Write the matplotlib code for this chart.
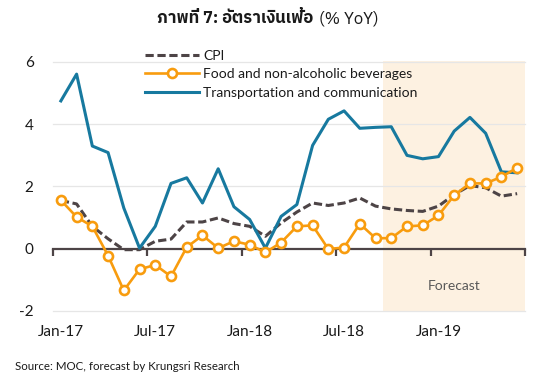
import matplotlib
matplotlib.use('Agg')
import matplotlib.pyplot as plt
from matplotlib import font_manager as fm
import matplotlib.patheffects as pe
import pandas as pd

# ---------------- data ----------------
months = list(pd.date_range('2017-01-01', periods=30, freq='MS').strftime('%b-%y'))
tick_labels = ['Jan-17', 'Jul-17', 'Jan-18', 'Jul-18', 'Jan-19']
cpi = [1.55, 1.44, 0.72, 0.32, -0.03, -0.03, 0.24, 0.31, 0.86, 0.86, 0.99, 0.81,
       0.72, 0.40, 0.83, 1.18, 1.47, 1.39, 1.47, 1.63, 1.37, 1.28, 1.23, 1.20,
       1.37, 1.74, 2.03, 1.96, 1.69, 1.77]
food = [1.56, 1.02, 0.72, -0.22, -1.34, -0.66, -0.52, -0.89, 0.05, 0.43, 0.02, 0.24,
        0.13, -0.12, 0.20, 0.72, 0.75, -0.01, 0.04, 0.80, 0.34, 0.34, 0.72, 0.75,
        1.07, 1.72, 2.10, 2.10, 2.31, 2.60]
transport = [4.75, 5.61, 3.30, 3.09, 1.31, 0.02, 0.72, 2.10, 2.28, 1.47, 2.57, 1.35,
             0.94, 0.02, 1.04, 1.42, 3.32, 4.16, 4.43, 3.87, 3.90, 3.92, 3.00, 2.89,
             2.96, 3.78, 4.22, 3.71, 2.47, 2.44]
forecast_start = 'Oct-18'
series_names = ['CPI', 'Food and non-alcoholic beverages', 'Transportation and communication']
title_bold = 'ภาพที่ 7: อัตราเงินเฟ้อ'
title_regular = '(% YoY)'
source = 'Source: MOC, forecast by Krungsri Research'

# ---------------- fonts ----------------
def find_thai_family():
    try:
        from fontTools.ttLib import TTFont
    except Exception:
        return None, False
    fams = {}
    for f in fm.fontManager.ttflist:
        try:
            tt = TTFont(f.fname, fontNumber=0, lazy=True)
            cmap = tt.getBestCmap()
            if cmap and 0x0E20 in cmap and 0x0E40 in cmap and 0x0E49 in cmap:
                w = f.weight
                if isinstance(w, str):
                    w = {'bold': 700, 'normal': 400, 'regular': 400}.get(w.lower(), 400)
                d = fams.setdefault(f.name, set())
                d.add(w)
        except Exception:
            continue
    if not fams:
        return None, False
    def score(item):
        name, ws = item
        s = 0
        if any(w >= 600 for w in ws):
            s += 4
        if 'Noto' in name:
            s += 2
        if 'Sans' in name:
            s += 1
        return s
    name, ws = max(fams.items(), key=score)
    return name, any(w >= 600 for w in ws)

thai, thai_has_bold = find_thai_family()
base_font = 'Lato'
plt.rcParams['font.family'] = [base_font, 'DejaVu Sans']

# ---------------- colors ----------------
c_cpi = '#4d4446'
c_food = '#f89c0e'
c_trans = '#17799f'
c_shade = '#fdf1e1'
c_text = '#1a1a1a'

W, H = 535, 383
fig = plt.figure(figsize=(W / 100, H / 100), dpi=100)
x_left, x_right = 53, 525
y_top, y_bot = 62, 311
ax = fig.add_axes([x_left / W, 1 - y_bot / H, (x_right - x_left) / W, (y_bot - y_top) / H])

n = len(months)
xs = [i + 0.5 for i in range(n)]
ax.set_xlim(0, n)
ax.set_ylim(-2, 6)

# forecast shading
fs = months.index(forecast_start)
ax.axvspan(fs, n, ymin=0, ymax=1.005, color=c_shade, lw=0, zorder=0, clip_on=False)
ax.text((fs + n) / 2, -1.2, 'Forecast', ha='center', va='center', fontsize=10, color='#595959')

# gridlines
for yv in [-2, 2, 4, 6]:
    ax.axhline(yv, color='#e6e6e6', lw=0.9, zorder=1, clip_on=False)

ax.plot(xs, cpi, color=c_cpi, lw=2.2, ls=(0, (2.7, 1.2)), zorder=3, label=series_names[0])
ax.plot(xs, food, color=c_food, lw=1.9, marker='o', ms=6.5, mfc='white', mec=c_food, mew=1.9,
        zorder=4, label=series_names[1])
ax.plot(xs, transport, color=c_trans, lw=2.2, zorder=3, label=series_names[2])

# spines/axis
for s in ['top', 'right', 'left']:
    ax.spines[s].set_visible(False)
ax.spines['bottom'].set_position(('data', 0))
ax.spines['bottom'].set_color('#4d4446')
ax.spines['bottom'].set_linewidth(1.6)
ax.spines['bottom'].set_zorder(2)
ax.set_xticks(range(0, n + 1, 6))
ax.set_xticklabels([])
ax.tick_params(axis='x', direction='out', length=5, width=1.6, color='#4d4446')

ax.set_yticks([-2, 0, 2, 4, 6])
ax.set_yticklabels(['-2', '0', '2', '4', '6'])
ax.tick_params(axis='y', length=0, pad=14, labelsize=11, labelcolor=c_text)

sec = ax.secondary_xaxis(-0.0)
sec.set_xticks([months.index(t) + 0.5 for t in tick_labels])
sec.set_xticklabels(tick_labels)
sec.tick_params(length=0, pad=10, labelsize=11, labelcolor=c_text)
sec.spines['bottom'].set_visible(False)

leg = ax.legend(loc='upper left', bbox_to_anchor=((145 - x_left) / (x_right - x_left), 1.048),
                frameon=False, fontsize=10, handlelength=3.9, handletextpad=0.3,
                labelspacing=0.45, borderaxespad=0, borderpad=0)
for t in leg.get_texts():
    t.set_color(c_text)

# title: bold Thai part + regular "(% YoY)"
title_fam = [thai, 'DejaVu Sans'] if thai else ['DejaVu Sans']
ty = 1 - 18 / H
t1 = fig.text(0.5, ty, title_bold, ha='left', va='center', fontsize=12, fontweight='bold',
              family=title_fam, color=c_text)
if not thai_has_bold:
    t1.set_path_effects([pe.withStroke(linewidth=0.8, foreground=c_text)])
t2 = fig.text(0.5, ty, title_regular, ha='left', va='center', fontsize=12,
              family=title_fam, color=c_text)
renderer = fig.canvas.get_renderer()
b1 = t1.get_window_extent(renderer)
b2 = t2.get_window_extent(renderer)
gap = 6
total = b1.width + gap + b2.width
x0 = (W - total) / 2
t1.set_x(x0 / W)
t2.set_x((x0 + b1.width + gap) / W)

fig.text(15 / W, 1 - 367 / H, source, ha='left', va='center', fontsize=8.3, color=c_text)

fig.savefig('out.png', dpi=100)
